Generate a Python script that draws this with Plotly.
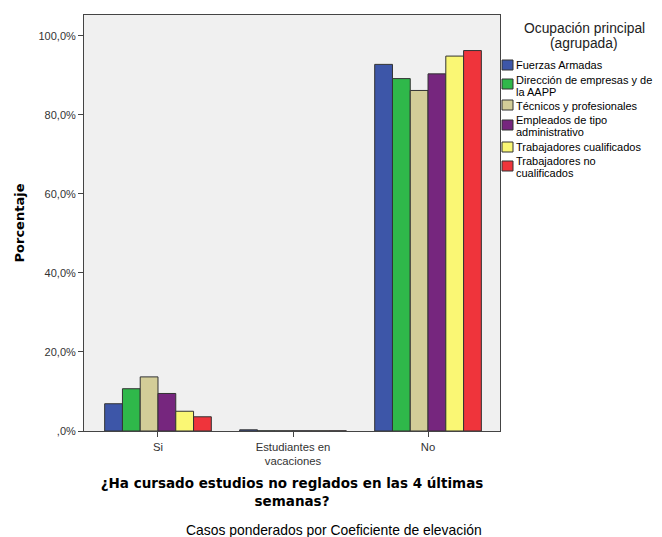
import plotly.graph_objects as go

categories = ["Si", "Estudiantes en<br>vacaciones", "No"]
series_names = [
    "Fuerzas Armadas",
    "Dirección de empresas y de la AAPP",
    "Técnicos y profesionales",
    "Empleados de tipo administrativo",
    "Trabajadores cualificados",
    "Trabajadores no cualificados",
]
legend_lines = [
    ["Fuerzas Armadas"],
    ["Dirección de empresas y de", "la AAPP"],
    ["Técnicos y profesionales"],
    ["Empleados de tipo", "administrativo"],
    ["Trabajadores cualificados"],
    ["Trabajadores no", "cualificados"],
]
fuerzas = [6.9, 0.3, 92.8]
direccion = [10.7, 0.05, 89.2]
tecnicos = [13.7, 0.05, 86.2]
empleados = [9.5, 0.05, 90.4]
cualificados = [5.0, 0.05, 94.9]
no_cualificados = [3.6, 0.05, 96.3]
values = [fuerzas, direccion, tecnicos, empleados, cualificados, no_cualificados]
colors = ["#3d56a8", "#2fb84a", "#d3cd98", "#76267e", "#faf774", "#ef343b"]

y_ticks = [0, 20, 40, 60, 80, 100]
y_ticktext = [",0%", "20,0%", "40,0%", "60,0%", "80,0%", "100,0%"]

# page offset (default body margin of the html page)
OFF = 8
W, H = 662 - OFF, 537 - OFF
L, R, T, B = 84, 500, 15, 431  # plot area in page pixels


def px(x):
    return (x - L) / (R - L)


def py(y):
    return (B - y) / (B - T)


fig = go.Figure()
for name, vals, col in zip(series_names, values, colors):
    fig.add_trace(go.Bar(
        x=list(range(len(categories))), y=vals, name=name,
        marker=dict(color=col, line=dict(color="#333333", width=1)),
        showlegend=False,
    ))

font = "Liberation Sans, Arial, sans-serif"
title_font = "DejaVu Sans, Verdana, sans-serif"
fig.update_layout(
    width=W, height=H,
    margin=dict(l=L - OFF, r=(W + OFF) - R, t=T - OFF, b=(H + OFF) - B, autoexpand=False),
    paper_bgcolor="white", plot_bgcolor="#f0f0f0",
    barmode="group", bargap=0.21, bargroupgap=0,
    font=dict(family=font, size=11, color="#000000"),
    xaxis=dict(
        tickmode="array", tickvals=list(range(len(categories))), ticktext=categories,
        range=[-0.548, 2.533], showgrid=False, zeroline=False, automargin=False,
        showline=True, linecolor="#444444", linewidth=1, mirror=True,
        ticks="outside", ticklen=5, tickcolor="#444444",
        tickfont=dict(size=11.3, color="#333333"),
        title=dict(text="<b>¿Ha cursado estudios no reglados en las 4 últimas<br>semanas?</b>",
                   font=dict(family=title_font, size=13.5, color="#000000"), standoff=12),
    ),
    yaxis=dict(
        tickmode="array", tickvals=y_ticks, ticktext=y_ticktext,
        range=[0, 105.3], showgrid=False, zeroline=False, automargin=False,
        showline=True, linecolor="#444444", linewidth=1, mirror=True,
        ticks="outside", ticklen=5, tickcolor="#444444",
        tickfont=dict(size=11, color="#333333"),
        title=dict(text="<b>Porcentaje</b>", font=dict(family=title_font, size=13, color="#000000"),
                   standoff=10),
    ),
)

# Legend (drawn manually to keep the compact SPSS-like layout)
fig.add_annotation(
    x=px(584), y=py(29), xref="paper", yref="paper", showarrow=False,
    text="Ocupación principal", font=dict(size=13.8, color="#222222"),
    xanchor="center", yanchor="middle",
)
fig.add_annotation(
    x=px(584), y=py(44), xref="paper", yref="paper", showarrow=False,
    text="(agrupada)", font=dict(size=13.8, color="#222222"),
    xanchor="center", yanchor="middle",
)
swatch_tops = [60, 79, 100, 120, 142, 161]
line_centers = [[65], [80.3, 92.0], [105.7], [120.0, 131.8], [146.7], [161.3, 173.0]]
for lines, col, top, centers in zip(legend_lines, colors, swatch_tops, line_centers):
    fig.add_shape(
        type="rect", xref="paper", yref="paper",
        x0=px(502), x1=px(513), y0=py(top + 10), y1=py(top),
        fillcolor=col, line=dict(color="#333333", width=1),
    )
    for txt, cy in zip(lines, centers):
        fig.add_annotation(
            x=px(514), y=py(cy), xref="paper", yref="paper", showarrow=False,
            text=txt, xanchor="left", yanchor="middle",
            font=dict(size=11, color="#000000"),
        )

fig.add_annotation(
    x=px(334), y=py(530), xref="paper", yref="paper", showarrow=False,
    text="Casos ponderados por Coeficiente de elevación",
    font=dict(size=13.9, color="#000000"), xanchor="center", yanchor="middle",
)

fig.write_html("out.html")
